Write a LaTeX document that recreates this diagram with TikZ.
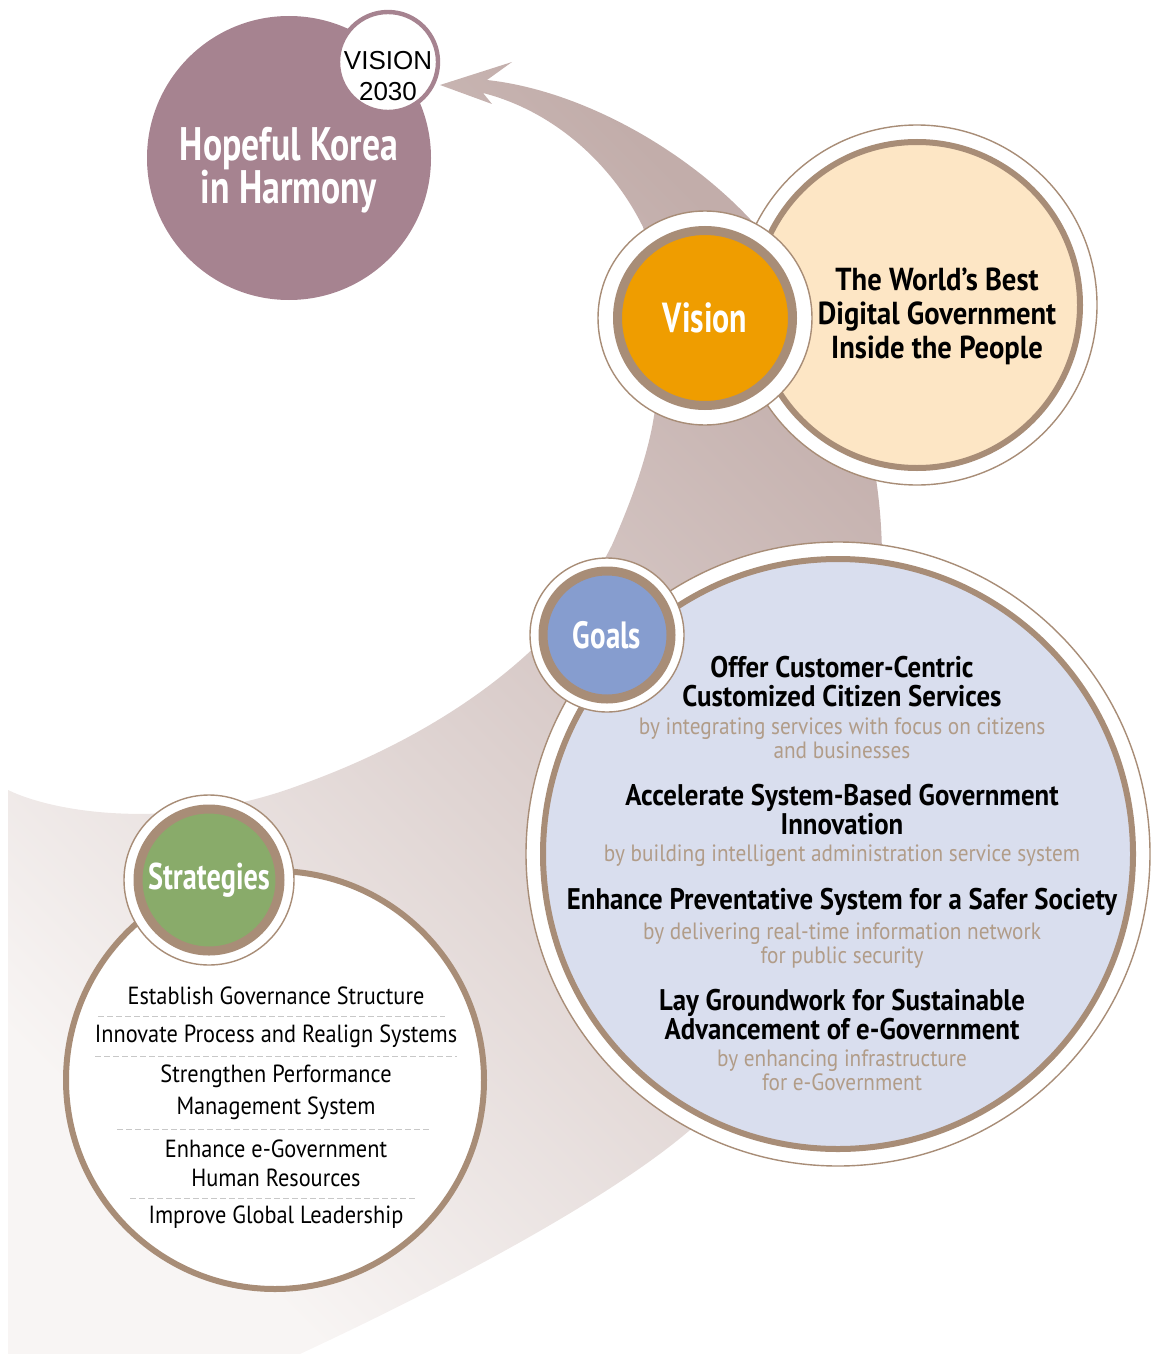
\documentclass[tikz,border=0pt]{standalone}
\usepackage{fontspec}
\setmainfont{PT Sans}[FakeStretch=0.9]
\newfontfamily\condfont{PT Sans}[FakeStretch=0.76]
\newfontfamily\arialfont{Liberation Sans}
\usetikzlibrary{positioning}
\definecolor{mauve}{HTML}{A68390}
\definecolor{ringbrown}{HTML}{A88D77}
\definecolor{cream}{HTML}{FDE6C5}
\definecolor{visionorange}{HTML}{EF9D00}
\definecolor{goalfill}{HTML}{D9DEEE}
\definecolor{goalblue}{HTML}{869DCF}
\definecolor{stratgreen}{HTML}{89AB6A}
\definecolor{subgray}{HTML}{B19C88}
\definecolor{banddark}{HTML}{C2ADAA}
\definecolor{bandlight}{HTML}{F8F5F4}
\definecolor{sepgray}{HTML}{C8C8C8}

\begin{document}
\begin{tikzpicture}[x=0.5pt, y=-0.5pt, every node/.style={inner sep=0pt, align=center},
  rim/.style={circle, fill=white, draw=ringbrown, line width=0.7pt},
  badge/.style={circle, draw=ringbrown, line width=4.5pt, text=white, font=\condfont\bfseries\fontsize{19}{21}\selectfont},
  goaltitle/.style={font=\bfseries\fontsize{14.9}{14.5}\selectfont},
  goalsub/.style={text=subgray, font=\fontsize{11.8}{12}\selectfont},
  strat/.style={font=\fontsize{12.4}{16}\selectfont},
  sep/.style={sepgray, line width=0.5pt, dash pattern=on 3pt off 1.5pt}]
\useasboundingbox (0,0) rectangle (1151,1354);

% the swoosh band behind everything
\shade[top color=banddark, bottom color=bandlight, shading angle=-45]
  (440,85) -- (512,62) -- (487,80)
  .. controls (580,90) and (690,150) .. (760,230)
  .. controls (850,330) and (882,450) .. (882,560)
  .. controls (885,780) and (810,1030) .. (690,1130)
  .. controls (620,1190) and (480,1270) .. (300,1354)
  -- (8,1354) -- (8,790)
  .. controls (60,815) and (180,830) .. (300,785)
  .. controls (440,735) and (560,650) .. (612,545)
  .. controls (645,470) and (657,420) .. (657,380)
  .. controls (657,300) and (650,250) .. (643,227)
  .. controls (610,160) and (550,110) .. (483,93)
  -- (492,104) -- cycle;

% top: vision 2030
\node[circle, fill=mauve, minimum size=142pt] (korea) at (289,158) {};
\node[text=white, font=\condfont\bfseries\fontsize{23.5}{21.5}\selectfont] (koreatxt) at (289,170) {Hopeful Korea\\in Harmony};
\node[circle, fill=white, draw=mauve, line width=2.2pt, minimum size=50pt] (v2030) at (388,62) {};
\node[font=\arialfont\fontsize{13}{15.5}\selectfont] (v2030txt) at (388,76) {VISION\\2030};

% vision
\node[rim, minimum size=180pt] (vtxtrim) at (917,305) {};
\node[circle, fill=cream, draw=ringbrown, line width=3pt, minimum size=163pt] (vtxtcirc) at (917,305) {};
\node[font=\bfseries\fontsize{15.9}{17}\selectfont] (vtxt) at (937,316) {The World's Best\\Digital Government\\Inside the People};
\node[rim, minimum size=107pt] (visionrim) at (705,318) {};
\node[badge, fill=visionorange, minimum size=87.5pt, font=\condfont\bfseries\fontsize{21}{22}\selectfont] (vision) at (705,318) {Vision};

% goals
\node[rim, minimum size=312pt] (goalsrim) at (838,854) {};
\node[circle, fill=goalfill, draw=ringbrown, line width=3pt, minimum size=295pt] (goalscirc) at (838,854) {};
\node[rim, minimum size=77pt] (goalsbrim) at (607,635) {};
\node[badge, fill=goalblue, minimum size=64pt] (goals) at (607,635) {Goals};

\node[goaltitle] (g1) at (842,682) {Offer Customer-Centric\\Customized Citizen Services};
\node[goalsub, below=5pt of g1] (g1sub) {by integrating services with focus on citizens\\and businesses};
\node[goaltitle] (g2) at (842,810) {Accelerate System-Based Government\\Innovation};
\node[goalsub, below=4.5pt of g2] (g2sub) {by building intelligent administration service system};
\node[goaltitle] (g3) at (842,902) {Enhance Preventative System for a Safer Society};
\node[goalsub, below=3pt of g3] (g3sub) {by delivering real-time information network\\for public security};
\node[goaltitle] (g4) at (842,1015) {Lay Groundwork for Sustainable\\Advancement of e-Government};
\node[goalsub, below=4.5pt of g4] (g4sub) {by enhancing infrastructure\\for e-Government};

% strategies
\node[circle, fill=white, draw=ringbrown, line width=3pt, minimum size=209pt] (stratcirc) at (275,1080) {};
\node[rim, minimum size=85pt] (stratbrim) at (209,880) {};
\node[badge, fill=stratgreen, minimum size=71pt, font=\condfont\bfseries\fontsize{18.6}{20}\selectfont] (strat) at (209,880) {Strategies};

\node[strat] (s1) at (276,996) {Establish Governance Structure};
\node[strat] (s2) at (276,1036) {Innovate Process and Realign Systems};
\node[strat] (s3) at (276,1092) {Strengthen Performance\\Management System};
\node[strat, font=\fontsize{12.4}{14.5}\selectfont] (s4) at (276,1163) {Enhance e-Government\\Human Resources};
\node[strat] (s5) at (276,1217) {Improve Global Leadership};
\draw[sep] (98,1016) -- (445,1016);
\draw[sep] (95,1056) -- (457,1056);
\draw[sep] (117,1129) -- (430,1129);
\draw[sep] (130,1198) -- (416,1198);
\end{tikzpicture}
\end{document}
